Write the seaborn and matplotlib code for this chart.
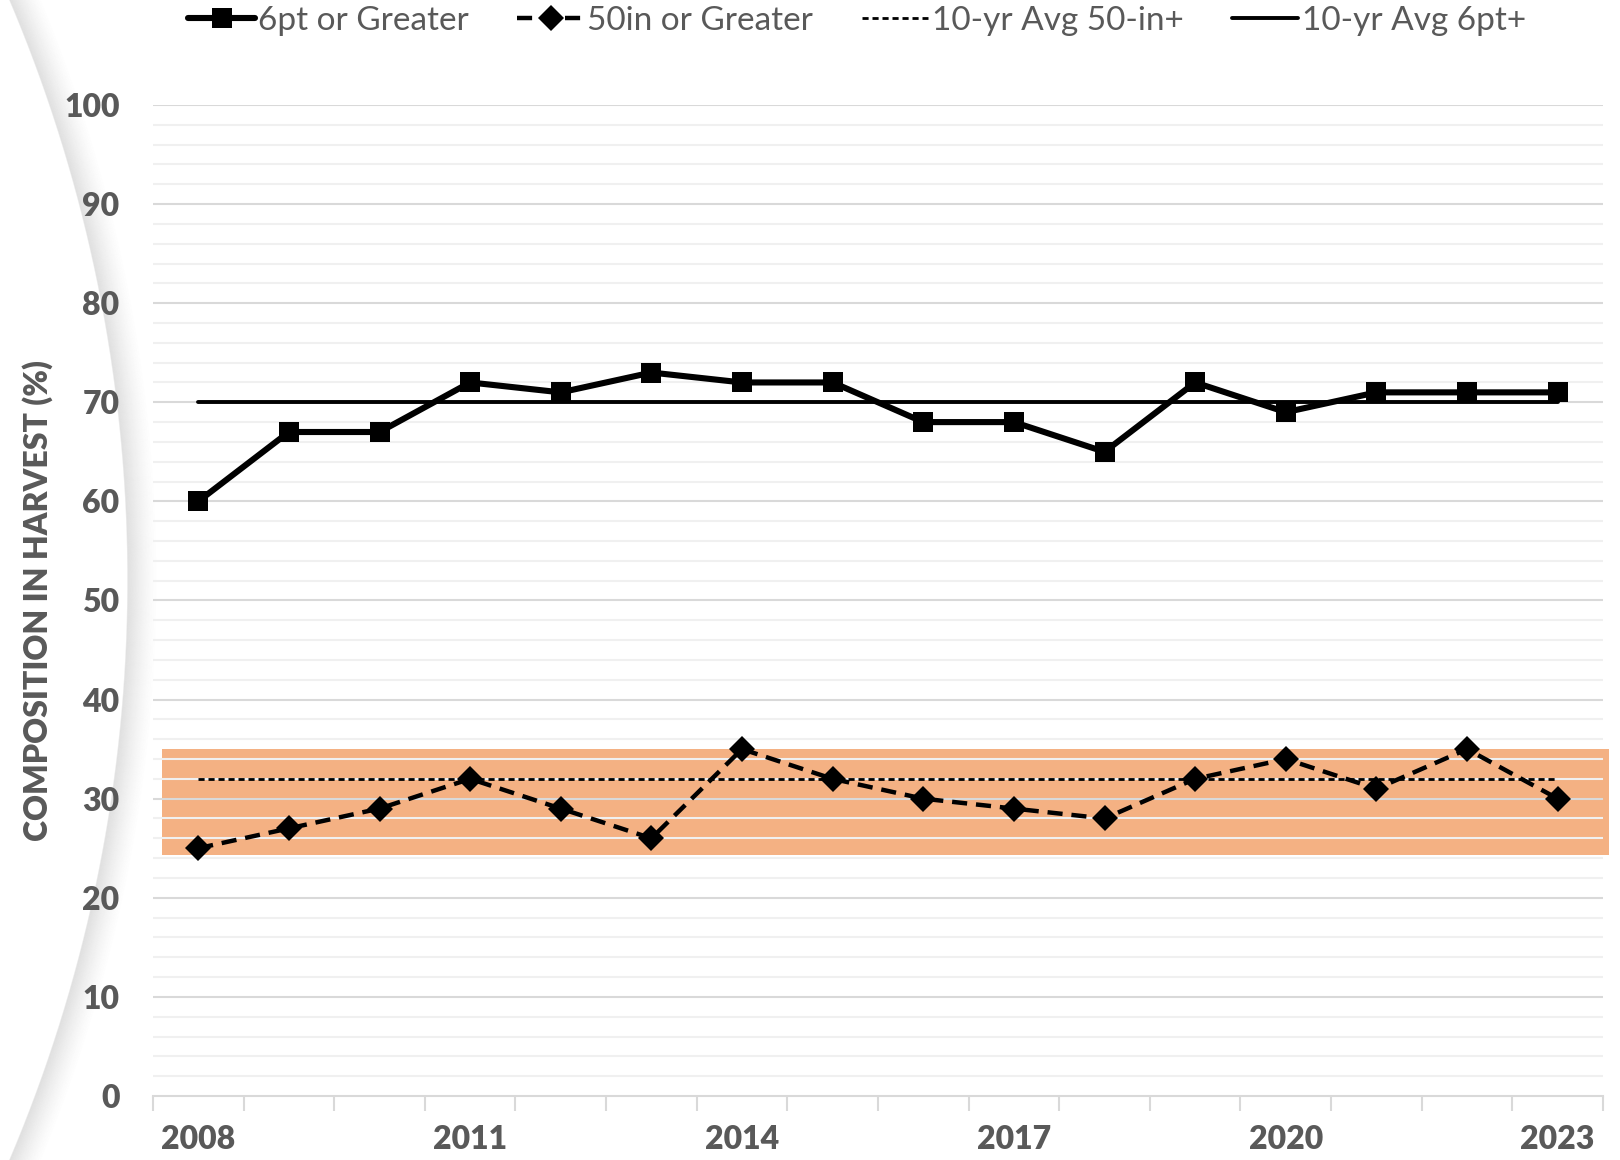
import matplotlib
matplotlib.use("Agg")
import matplotlib.pyplot as plt
import numpy as np
import pandas as pd
import seaborn as sns

# values
YEARS = list(range(2008, 2024))
PCT_6PT = [60, 67, 67, 72, 71, 73, 72, 72, 68, 68, 65, 72, 69, 71, 71, 71]
PCT_50IN = [25, 27, 29, 32, 29, 26, 35, 32, 30, 29, 28, 32, 34, 31, 35, 30]
AVG_6PT = 70
AVG_50IN = 32
BAND_LOW, BAND_HIGH = 24.3, 35
XTICK_YEARS = [2008, 2011, 2014, 2017, 2020, 2023]
YTICKS = list(range(0, 101, 10))

GRAY_TEXT = "#595959"


def draw_backdrop(fig):
    """Soft grey arc on the left edge, like the slide the chart was cut from."""
    bg = fig.add_axes([0, 0, 1, 1], zorder=-5)
    bg.set_xlim(0, 1620)
    bg.set_ylim(1160, 0)
    bg.axis("off")
    radius, cx, cy = 1484, -1356, 580
    theta = np.linspace(-0.6, 0.6, 400)
    # shadow fades out to the right of the arc edge
    for i in range(30):
        r = radius + i
        alpha = 0.18 * (1 - i / 30) ** 1.4
        bg.plot(cx + r * np.cos(theta), cy + r * np.sin(theta),
                color="#808080", alpha=alpha, lw=1.0)


def main():
    sns.set_theme(style="white")
    plt.rcParams["font.family"] = ["Lato", "DejaVu Sans"]

    df = pd.DataFrame({"year": YEARS, "six_pt": PCT_6PT, "fifty_in": PCT_50IN})

    fig = plt.figure(figsize=(16.2, 11.6), dpi=100)
    draw_backdrop(fig)
    ax = fig.add_axes([0.0944, 0.0552, 0.8951, 0.8543])
    ax.patch.set_alpha(0)

    # target band
    ax.axhspan(BAND_LOW, BAND_HIGH, xmin=0.006, xmax=1.004, color="#f4b183",
               zorder=0.3, clip_on=False, lw=0)

    # gridlines: major every 10, minor every 2
    for y in np.arange(2, 101, 2):
        major = y % 10 == 0
        ax.axhline(y, color="#d9d9d9" if major else "#f0f0f0", lw=1.5, zorder=0.6)

    sns.lineplot(data=df, x="year", y="six_pt", ax=ax, color="black", lw=4.4,
                 marker="s", markersize=14, markeredgewidth=0, zorder=5,
                 label="6pt or Greater")
    sns.lineplot(data=df, x="year", y="fifty_in", ax=ax, color="black", lw=3.2,
                 marker="D", markersize=13, markeredgewidth=0, dashes=False,
                 linestyle=(0, (3.4, 2.0)), zorder=5, label="50in or Greater")
    ax.plot([YEARS[0], YEARS[-1]], [AVG_50IN, AVG_50IN], color="black", lw=2.0,
            linestyle=(0, (2.2, 1.4)), zorder=4, label="10-yr Avg 50-in+")
    ax.plot([YEARS[0], YEARS[-1]], [AVG_6PT, AVG_6PT], color="black", lw=2.8,
            zorder=4, label="10-yr Avg 6pt+")

    ax.set_xlim(YEARS[0] - 0.5, YEARS[-1] + 0.5)
    ax.set_ylim(0, 100)
    ax.set_yticks(YTICKS, labels=[str(v) for v in YTICKS], fontweight="heavy")
    ax.set_xticks(XTICK_YEARS, labels=[str(v) for v in XTICK_YEARS],
                  fontweight="heavy")
    ax.set_xticks(np.arange(YEARS[0] - 0.5, YEARS[-1] + 1, 1), minor=True)
    ax.tick_params(axis="y", length=0, pad=24, labelsize=23, labelcolor=GRAY_TEXT)
    ax.tick_params(axis="x", which="major", length=0, pad=21, labelsize=23,
                   labelcolor=GRAY_TEXT)
    ax.tick_params(axis="x", which="minor", length=11, width=1.5, color="#d9d9d9",
                   bottom=True)

    for side in ["top", "right", "left"]:
        ax.spines[side].set_visible(False)
    ax.spines["bottom"].set_color("#d9d9d9")
    ax.spines["bottom"].set_linewidth(1.5)
    ax.spines["bottom"].set_zorder(1)

    ax.set_xlabel("")
    ax.set_ylabel("COMPOSITION IN HARVEST (%)", fontsize=23, fontweight="heavy",
                  color=GRAY_TEXT)
    ax.yaxis.set_label_coords(-0.069, 0.50)

    handles, labels = ax.get_legend_handles_labels()
    ax.legend_.remove()
    fig.legend(handles, labels, loc="center", bbox_to_anchor=(0.529, 0.982),
               ncol=4, frameon=False, fontsize=24, labelcolor=GRAY_TEXT,
               handlelength=2.0, handletextpad=0.1, columnspacing=1.45,
               numpoints=1)

    fig.savefig("out.png", dpi=100)
    plt.close(fig)


if __name__ == "__main__":
    main()
